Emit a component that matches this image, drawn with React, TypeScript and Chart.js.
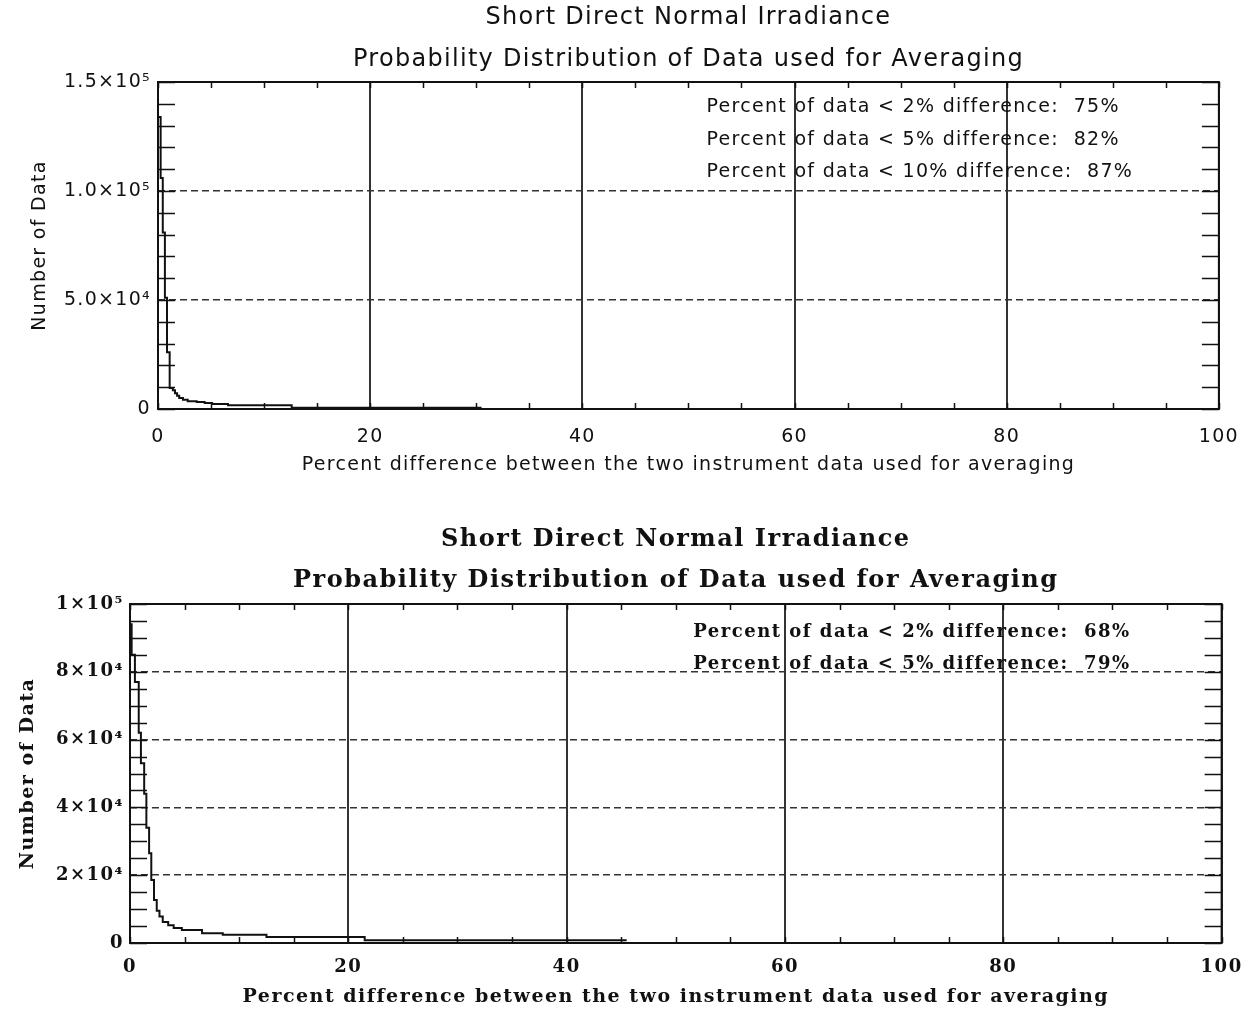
import React, { useEffect, useRef } from 'react';
import { Chart, registerables } from 'chart.js';

Chart.register(...registerables);

const TITLE_LINES = ['Short Direct Normal Irradiance', 'Probability Distribution of Data used for Averaging'];
const X_TITLE = 'Percent difference between the two instrument data used for averaging';
const Y_TITLE = 'Number of Data';
const X_TICKS = [0, 20, 40, 60, 80, 100];

// Upper panel (histogram of % difference, stepped; value holds until next x)
const TOP_X = [0, 0.25, 0.45, 0.65, 0.85, 1.1, 1.4, 1.6, 1.8, 2.0, 2.35, 2.8, 3.65, 4.4, 5.1, 6.6, 12.6, 30.5];
const TOP_Y = [134000, 106000, 81000, 51000, 26000, 9600, 8600, 7200, 6100, 5000, 4200, 3600, 3200, 2700, 2300, 1700, 600, 600];
const TOP_Y_TICKS = [0, 50000, 100000, 150000];
const TOP_Y_LABELS = ['0', '5.0×10⁴', '1.0×10⁵', '1.5×10⁵'];
const TOP_NOTES = [
  'Percent of data < 2% difference:  75%',
  'Percent of data < 5% difference:  82%',
  'Percent of data < 10% difference:  87%',
];

// Lower panel
const BOT_X = [0, 0.15, 0.45, 0.8, 1.0, 1.3, 1.5, 1.75, 1.95, 2.2, 2.45, 2.7, 3.0, 3.5, 4.0, 4.75, 6.6, 8.5, 12.5, 21.5, 45.5];
const BOT_Y = [94000, 85000, 77000, 62000, 53000, 44000, 34000, 26500, 18600, 12700, 9500, 7800, 6200, 5200, 4400, 3800, 2900, 2400, 1800, 800, 800];
const BOT_Y_TICKS = [0, 20000, 40000, 60000, 80000, 100000];
const BOT_Y_LABELS = ['0', '2×10⁴', '4×10⁴', '6×10⁴', '8×10⁴', '1×10⁵'];
const BOT_NOTES = [
  'Percent of data < 2% difference:  68%',
  'Percent of data < 5% difference:  79%',
];

type Spec = {
  xs: number[];
  ys: number[];
  yMax: number;
  yTicks: number[];
  yLabels: string[];
  yMinor: number;
  notes: string[];
  noteX: number;
  noteY: number[];
  family: string;
  weight: string;
  ls: string;
  titleSize: number;
  titleLH: number;
  titlePad: { top: number; bottom: number };
  tickSize: number;
  axisTitleSize: number;
  noteSize: number;
  pad: { left: number; right: number; top: number; bottom: number };
  xH: number;
  xTickPad: number;
  xTitlePadB: number;
  yW: number;
  yTickPad: number;
  yTitlePadT: number;
};

const INK = '#111111';

function makeChart(canvas: HTMLCanvasElement, spec: Spec) {
  const data = spec.xs.map((x, i) => ({ x, y: spec.ys[i] }));
  const plugin = {
    id: 'idlFrame',
    beforeDraw(chart: any) {
      const ctx = chart.ctx;
      ctx.save();
      ctx.fillStyle = '#ffffff';
      ctx.fillRect(0, 0, chart.width, chart.height);
      ctx.restore();
      ctx.letterSpacing = spec.ls;
    },
    afterDatasetsDraw(chart: any) {
      const { ctx, chartArea: a, scales } = chart;
      const xs = scales.x;
      const ys = scales.y;
      ctx.save();
      ctx.setLineDash([]);
      ctx.strokeStyle = INK;
      ctx.lineWidth = 1.5;
      ctx.beginPath();
      for (let v = 0; v <= spec.yMax + 1; v += spec.yMinor) {
        const p = Math.round(ys.getPixelForValue(v)) + 0.5;
        ctx.moveTo(a.left, p);
        ctx.lineTo(a.left + 17, p);
        ctx.moveTo(a.right, p);
        ctx.lineTo(a.right - 17, p);
      }
      for (let v = 0; v <= 100; v += 5) {
        const p = Math.round(xs.getPixelForValue(v)) + 0.5;
        ctx.moveTo(p, a.bottom);
        ctx.lineTo(p, a.bottom - 6);
        ctx.moveTo(p, a.top);
        ctx.lineTo(p, a.top + 6);
      }
      ctx.stroke();
      ctx.lineWidth = 2;
      ctx.strokeRect(a.left, a.top, a.right - a.left, a.bottom - a.top);
      ctx.fillStyle = INK;
      ctx.font = `${spec.weight} ${spec.noteSize}px ${spec.family}`;
      ctx.textAlign = 'left';
      ctx.textBaseline = 'middle';
      spec.notes.forEach((t, i) => {
        ctx.fillText(t, xs.getPixelForValue(spec.noteX), a.top + spec.noteY[i]);
      });
      ctx.restore();
    },
  };

  const font = (size: number, lh?: string) => ({
    family: spec.family,
    size,
    weight: spec.weight as any,
    lineHeight: lh ?? 1.2,
  });

  return new Chart(canvas, {
    type: 'line',
    data: {
      datasets: [
        {
          data,
          stepped: 'before',
          borderColor: INK,
          borderWidth: 2,
          pointRadius: 0,
          fill: false,
        },
      ],
    },
    options: {
      responsive: false,
      animation: false,
      layout: { padding: spec.pad },
      plugins: {
        legend: { display: false },
        tooltip: { enabled: false },
        title: {
          display: true,
          fullSize: false,
          text: TITLE_LINES,
          color: INK,
          font: font(spec.titleSize, spec.titleLH + 'px'),
          padding: spec.titlePad,
        },
      },
      scales: {
        x: {
          type: 'linear',
          min: 0,
          max: 100,
          afterBuildTicks: (s: any) => {
            s.ticks = X_TICKS.map((v) => ({ value: v }));
          },
          afterFit: (s: any) => {
            s.height = spec.xH;
          },
          ticks: {
            autoSkip: false,
            maxRotation: 0,
            padding: spec.xTickPad,
            color: INK,
            font: font(spec.tickSize),
            callback: (v: any) => String(v),
          },
          grid: { color: '#333333', lineWidth: 2, drawTicks: false },
          border: { display: false },
          title: {
            display: true,
            text: X_TITLE,
            color: INK,
            font: font(spec.axisTitleSize),
            padding: { top: 0, bottom: spec.xTitlePadB },
          },
        },
        y: {
          type: 'linear',
          min: 0,
          max: spec.yMax,
          afterBuildTicks: (s: any) => {
            s.ticks = spec.yTicks.map((v) => ({ value: v }));
          },
          afterFit: (s: any) => {
            s.width = spec.yW;
          },
          ticks: {
            autoSkip: false,
            padding: spec.yTickPad,
            color: INK,
            font: font(spec.tickSize),
            callback: (_v: any, i: number) => spec.yLabels[i],
          },
          grid: { color: '#333333', lineWidth: 1.5, drawTicks: false },
          border: { display: false, dash: [7, 4] },
          title: {
            display: true,
            text: Y_TITLE,
            color: INK,
            font: font(spec.axisTitleSize),
            padding: { top: spec.yTitlePadT, bottom: 0 },
          },
        },
      },
    },
    plugins: [plugin as any],
  });
}

const TOP_SPEC: Spec = {
  xs: TOP_X,
  ys: TOP_Y,
  yMax: 150000,
  yTicks: TOP_Y_TICKS,
  yLabels: TOP_Y_LABELS,
  yMinor: 10000,
  notes: TOP_NOTES,
  noteX: 51.7,
  noteY: [25, 58, 90],
  family: '"DejaVu Sans", sans-serif',
  weight: 'normal',
  ls: '1.3px',
  titleSize: 24,
  titleLH: 42,
  titlePad: { top: 0, bottom: 1 },
  tickSize: 19,
  axisTitleSize: 19,
  noteSize: 19,
  pad: { left: 20, right: 32, top: 0, bottom: 18 },
  xH: 70,
  xTickPad: 17,
  xTitlePadB: 2.6,
  yW: 138,
  yTickPad: 7,
  yTitlePadT: 9,
};

const BOT_SPEC: Spec = {
  xs: BOT_X,
  ys: BOT_Y,
  yMax: 100000,
  yTicks: BOT_Y_TICKS,
  yLabels: BOT_Y_LABELS,
  yMinor: 5000,
  notes: BOT_NOTES,
  noteX: 51.6,
  noteY: [28, 60],
  family: '"DejaVu Serif", serif',
  weight: 'bold',
  ls: '1.5px',
  titleSize: 24,
  titleLH: 41,
  titlePad: { top: 19.5, bottom: 2.5 },
  tickSize: 18,
  axisTitleSize: 19,
  noteSize: 18,
  pad: { left: 8, right: 32, top: 0, bottom: 1 },
  xH: 68,
  xTickPad: 13.6,
  xTitlePadB: 2.6,
  yW: 122,
  yTickPad: 6,
  yTitlePadT: 8.6,
};

function Panel({ spec, top, height }: { spec: Spec; top: number; height: number }) {
  const ref = useRef<HTMLCanvasElement>(null);
  useEffect(() => {
    if (!ref.current) return;
    const chart = makeChart(ref.current, spec);
    return () => chart.destroy();
  }, [spec]);
  return (
    <canvas
      ref={ref}
      width={1254}
      height={height}
      style={{ position: 'absolute', left: 0, top, width: 1254, height }}
    />
  );
}

export default function App() {
  return (
    <div style={{ position: 'absolute', left: 0, top: 0, width: 1254, height: 1012, background: '#fff', overflow: 'hidden' }}>
      <Panel spec={TOP_SPEC} top={-3} height={500} />
      <Panel spec={BOT_SPEC} top={500} height={512} />
    </div>
  );
}
